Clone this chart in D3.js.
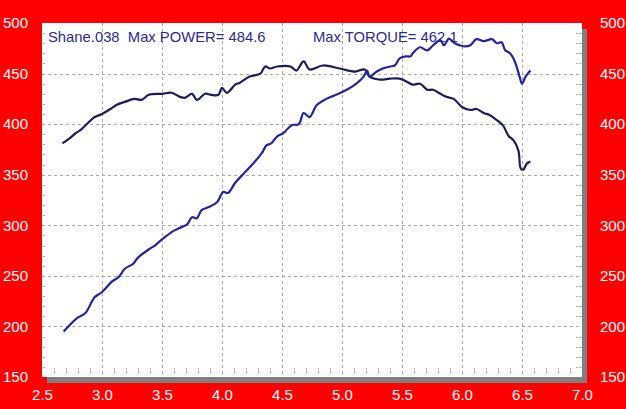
<!DOCTYPE html>
<html><head><meta charset="utf-8">
<script src="https://cdn.jsdelivr.net/npm/d3@7"></script>
<style>html,body{margin:0;padding:0;background:#ff0000;}svg{display:block;}</style>
</head><body>
<svg id="c" width="626" height="409"></svg>
<script>
const rpm = [2.68,2.79,2.86,2.94,3.00,3.08,3.14,3.19,3.26,3.30,3.40,3.44,3.51,3.59,3.64,3.71,3.75,3.79,3.83,3.89,3.96,4.01,4.05,4.11,4.18,4.26,4.33,4.37,4.41,4.46,4.51,4.58,4.64,4.68,4.73,4.79,4.87,4.95,5.04,5.12,5.18,5.21,5.23,5.29,5.34,5.40,5.44,5.48,5.53,5.57,5.59,5.65,5.71,5.76,5.82,5.85,5.89,5.94,6.01,6.07,6.12,6.18,6.25,6.29,6.33,6.36,6.40,6.44,6.48,6.50,6.53,6.57];
const power = [195,208,213,229,234,244,249,257,262,268,277,280,287,294,297,301,308,307,315,318,323,333,332,342,351,361,371,379,381,388,391,399,400,411,407,419,425,429,434,440,447,453,447,452,455,457,458,465,467,467,470,476,473,478,483,478,484.6,480,477,478,484,482,484,480,481,473,470,462,447,440,447,453];
const torqueRpm = [2.67,2.73,2.78,2.82,2.89,2.94,3.00,3.07,3.12,3.19,3.27,3.33,3.39,3.50,3.58,3.65,3.69,3.75,3.79,3.86,3.91,3.97,4.00,4.04,4.11,4.15,4.23,4.32,4.36,4.40,4.46,4.57,4.62,4.68,4.73,4.84,4.98,5.11,5.19,5.23,5.32,5.40,5.48,5.54,5.59,5.65,5.71,5.76,5.82,5.87,5.93,6.00,6.07,6.12,6.18,6.23,6.29,6.34,6.39,6.43,6.47,6.49,6.51,6.54,6.57];
const torque = [381,386,391,394,402,407,410,415,419,422,425,424,429,430,431,427,426,430,424,430,429,429,436,431,439,441,447,450,457,455,457,457,453,462.1,454,458,455,452,454,447,444,445,445,442,439,440,434,434,430,427,425,417,414,415,411,409,404,399,388,384,374,356,355,361,363];
const xTicks = [2.5,3.0,3.5,4.0,4.5,5.0,5.5,6.0,6.5,7.0];
const yTicks = [150,200,250,300,350,400,450,500];
const title1 = "Shane.038  Max POWER= 484.6";
const title2 = "Max TORQUE= 462.1";

const svg = d3.select("#c");
const L=42, R=582, T=23, B=377;
const x = d3.scaleLinear().domain([2.5,7.0]).range([L,R]);
const y = d3.scaleLinear().domain([150,500]).range([B,T]);

// shadow + plot
svg.append("rect").attr("x",L+5).attr("y",T+6).attr("width",R-L).attr("height",B-T).attr("fill","#7f7f7f");
svg.append("rect").attr("x",L).attr("y",T).attr("width",R-L).attr("height",B-T).attr("fill","#ffffff");

const grid = svg.append("g").attr("stroke","#a8a8a8").attr("stroke-width",1).attr("stroke-dasharray","3,3");
xTicks.slice(1,-1).forEach(v=>grid.append("line").attr("x1",Math.round(x(v))+0.5).attr("x2",Math.round(x(v))+0.5).attr("y1",T).attr("y2",B));
yTicks.slice(1,-1).forEach(v=>grid.append("line").attr("y1",Math.round(y(v))+0.5).attr("y2",Math.round(y(v))+0.5).attr("x1",L).attr("x2",R));

// minor ticks
const minor = svg.append("g").attr("stroke","#b0b0b0").attr("stroke-width",1).attr("stroke-dasharray","2,1");
d3.range(26,70).forEach(i=>{const v=i/10; if(i%5===0) return;
  minor.append("line").attr("x1",Math.round(x(v))+0.5).attr("x2",Math.round(x(v))+0.5).attr("y1",B-9).attr("y2",B-3);});
d3.range(16,50).forEach(i=>{const v=i*10; if(i%5===0) return;
  minor.append("line").attr("y1",Math.round(y(v))+0.5).attr("y2",Math.round(y(v))+0.5).attr("x1",L+1).attr("x2",L+4);
  minor.append("line").attr("y1",Math.round(y(v))+0.5).attr("y2",Math.round(y(v))+0.5).attr("x1",R-6).attr("x2",R-1);});

// axes labels
const axL = svg.append("g").attr("transform",`translate(${L},0)`).call(d3.axisLeft(y).tickValues(yTicks).tickFormat(d3.format("d")).tickSize(0).tickPadding(14));
const axR = svg.append("g").attr("transform",`translate(${R},0)`).call(d3.axisRight(y).tickValues(yTicks).tickFormat(d3.format("d")).tickSize(0).tickPadding(18));
const axB = svg.append("g").attr("transform",`translate(0,${B})`).call(d3.axisBottom(x).tickValues(xTicks).tickFormat(d3.format(".1f")).tickSize(0).tickPadding(12));
[axL,axR,axB].forEach(a=>{a.select(".domain").remove();
  a.selectAll("text").attr("fill","#ffffff").style("font-family","Arial, 'Liberation Sans', sans-serif").style("font-size","15px");});

// lines
const lineP = d3.line().x((d,i)=>x(rpm[i])).y(d=>y(d)).curve(d3.curveCatmullRom.alpha(0.5));
const lineT = d3.line().x((d,i)=>x(torqueRpm[i])).y(d=>y(d)).curve(d3.curveCatmullRom.alpha(0.5));
svg.append("path").attr("d",lineT(torque)).attr("fill","none").attr("stroke","#1c1c5c").attr("stroke-width",2.2).attr("stroke-linejoin","round");
svg.append("path").attr("d",lineP(power)).attr("fill","none").attr("stroke","#2424a0").attr("stroke-width",2.2).attr("stroke-linejoin","round");

// titles
svg.append("text").attr("x",48).attr("y",42).attr("xml:space","preserve").style("white-space","pre").attr("fill","#2a2a90")
  .style("font-family","Arial, 'Liberation Sans', sans-serif").style("font-size","14.8px").text(title1);
svg.append("text").attr("x",313).attr("y",42).attr("fill","#2a2a90")
  .style("font-family","Arial, 'Liberation Sans', sans-serif").style("font-size","14.8px").text(title2);
</script>
</body></html>
